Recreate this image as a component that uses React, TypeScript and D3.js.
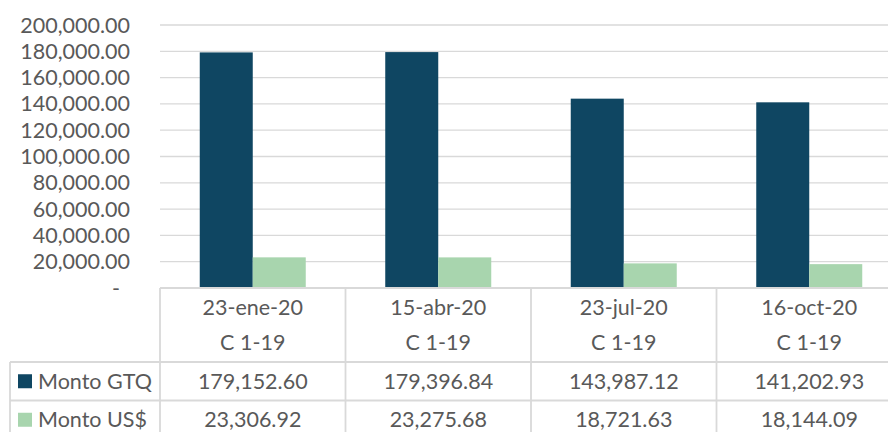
import React from "react";
import * as d3 from "d3";

const categories = ["23-ene-20", "15-abr-20", "23-jul-20", "16-oct-20"];
const subLabels = ["C 1-19", "C 1-19", "C 1-19", "C 1-19"];
const seriesNames = ["Monto GTQ", "Monto US$"];
const montoGTQ = [179152.6, 179396.84, 143987.12, 141202.93];
const montoUSD = [23306.92, 23275.68, 18721.63, 18144.09];
const yTicks = [0, 20000, 40000, 60000, 80000, 100000, 120000, 140000, 160000, 180000, 200000];

const W = 888;
const H = 432;
const plotLeft = 160;
const plotRight = 902;
const yTop = 25;
const yBase = 288;
const rowLines = [362, 400.5, 439];
const legendLeft = 10;
const colors = ["#0f4662", "#a8d5ae"];
const textColor = "#595959";
const gridColor = "#d9d9d9";
const font = "Lato, 'Open Sans', sans-serif";
const fs = 21.5;

export default function App() {
  const x0 = d3.scaleBand<string>().domain(categories).range([plotLeft, plotRight]).paddingInner(0).paddingOuter(0);
  const x1 = d3.scaleBand<string>().domain(seriesNames).range([0, x0.bandwidth()]).paddingInner(0).paddingOuter(0.75);
  const y = d3.scaleLinear().domain([0, 200000]).range([yBase, yTop]);
  const fmt = d3.format(",.2f");
  const seriesValues = [montoGTQ, montoUSD];

  return (
    <svg width={W} height={H} style={{ position: "absolute", left: 0, top: 0, background: "#fff" }} fontFamily={font}>
      <rect x={0} y={0} width={W} height={H} fill="#fff" />
      {/* gridlines */}
      {yTicks.slice(1).map((t) => (
        <line key={t} x1={plotLeft} x2={plotRight} y1={y(t)} y2={y(t)} stroke={gridColor} strokeWidth={1.3} />
      ))}
      {/* y labels */}
      {yTicks.map((t) => (
        <text key={t} x={t === 0 ? 120 : 130} y={y(t)} dy="0.35em" textAnchor="end" fontSize={fs} fill={textColor}>
          {t === 0 ? "-" : fmt(t)}
        </text>
      ))}
      {/* bars */}
      {seriesValues.map((vals, si) =>
        categories.map((c, ci) => (
          <rect
            key={si + "-" + ci}
            x={(x0(c) as number) + (x1(seriesNames[si]) as number)}
            width={x1.bandwidth()}
            y={y(vals[ci])}
            height={yBase - y(vals[ci])}
            fill={colors[si]}
          />
        ))
      )}
      {/* table lines */}
      <line x1={plotLeft} x2={plotRight} y1={yBase} y2={yBase} stroke={gridColor} strokeWidth={1.8} />
      {rowLines.map((ry) => (
        <line key={ry} x1={legendLeft} x2={plotRight} y1={ry} y2={ry} stroke={gridColor} strokeWidth={1.8} />
      ))}
      <line x1={legendLeft} x2={legendLeft} y1={rowLines[0]} y2={H + 10} stroke={gridColor} strokeWidth={1.8} />
      {categories.map((c) => (
        <line key={c} x1={x0(c) as number} x2={x0(c) as number} y1={yBase} y2={H + 10} stroke={gridColor} strokeWidth={1.8} />
      ))}
      {/* header texts */}
      {categories.map((c, i) => {
        const cx = (x0(c) as number) + x0.bandwidth() / 2;
        return (
          <g key={c}>
            <text x={cx} y={307} dy="0.35em" textAnchor="middle" fontSize={fs} fill={textColor}>{c}</text>
            <text x={cx} y={342} dy="0.35em" textAnchor="middle" fontSize={fs} fill={textColor}>{subLabels[i]}</text>
          </g>
        );
      })}
      {/* rows */}
      {seriesNames.map((s, si) => {
        const cy = (rowLines[si] + rowLines[si + 1]) / 2;
        return (
          <g key={s}>
            <rect x={18} y={cy - 7} width={14} height={14} fill={colors[si]} />
            <text x={38} y={cy} dy="0.35em" fontSize={fs} fill={textColor}>{s}</text>
            {categories.map((c, ci) => (
              <text key={c} x={(x0(c) as number) + x0.bandwidth() / 2} y={cy} dy="0.35em" textAnchor="middle" fontSize={fs} fill={textColor}>
                {fmt(seriesValues[si][ci])}
              </text>
            ))}
          </g>
        );
      })}
    </svg>
  );
}
